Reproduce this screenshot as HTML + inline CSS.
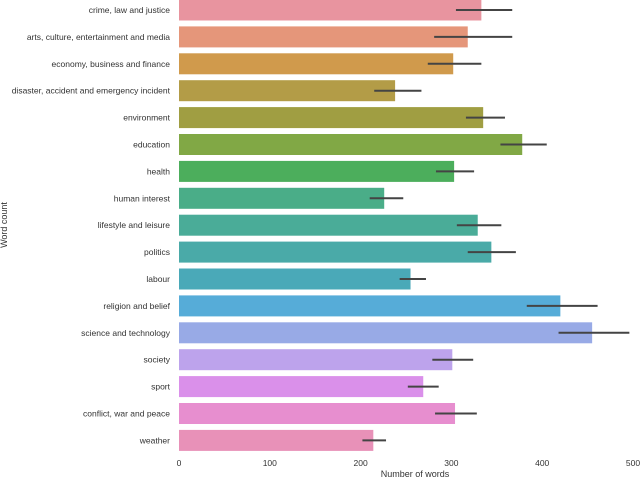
<!DOCTYPE html>
<html><head><meta charset="utf-8"><style>
body{margin:0;background:#fff;font-family:"Liberation Sans",sans-serif}
svg text{font-family:"Liberation Sans",sans-serif;fill:#333}
</style></head><body>
<svg id="c" width="640" height="478"></svg>
<script>
const categories=["crime, law and justice","arts, culture, entertainment and media","economy, business and finance","disaster, accident and emergency incident","environment","education","health","human interest","lifestyle and leisure","politics","labour","religion and belief","science and technology","society","sport","conflict, war and peace","weather"];
const values=[333,318,302,238,335,378,303,226,329,344,255,420,455,301,269,304,214];
const ciLow=[305,281,274,215,316,354,283,210,306,318,243,383,418,279,252,282,202];
const ciHigh=[367,367,333,267,359,405,325,247,355,371,272,461,496,324,286,328,228];
const ticks=[0,100,200,300,400,500];
const colors=["#e8949f","#e5967a","#d09a4c","#b39c47","#a09e42","#81a845","#4cae5c","#4aad88","#4aac98","#4aaaa8","#4aa9b8","#56acd8","#98aae6","#bda3ec","#da90ea","#e78ecf","#e891b8"];
const svg=document.getElementById('c');const NS='http://www.w3.org/2000/svg';
const x=v=>179+v*(454/500);
const yc=i=>10+i*26.9;
function mk(t,a,p){const e=document.createElementNS(NS,t);for(const k in a)e.setAttribute(k,a[k]);(p||svg).appendChild(e);return e;}
categories.forEach((c,i)=>{
 const b=mk('rect',{x:x(0),y:yc(i)-10.5,width:x(values[i])-x(0),height:21,fill:colors[i]});
 
 
 const l=mk('line',{x1:x(ciLow[i]),x2:x(ciHigh[i]),y1:yc(i),y2:yc(i),stroke:'#444','stroke-width':2});
 
 
 const t=mk('text',{x:170,y:yc(i)+3,'text-anchor':'end','font-size':8.5});
 t.textContent=c;
 
 
});
ticks.forEach(v=>{
 const t=mk('text',{x:x(v),y:466,'text-anchor':'middle','font-size':8.5});
 t.textContent=v;
 
 
});
const xt=mk('text',{x:415,y:477,'text-anchor':'middle','font-size':9});xt.textContent='Number of words';


const yt=mk('text',{x:0,y:0,'text-anchor':'middle','font-size':9,transform:'translate(7,225) rotate(-90)'});yt.textContent='Word count';


</script>
</body></html>
